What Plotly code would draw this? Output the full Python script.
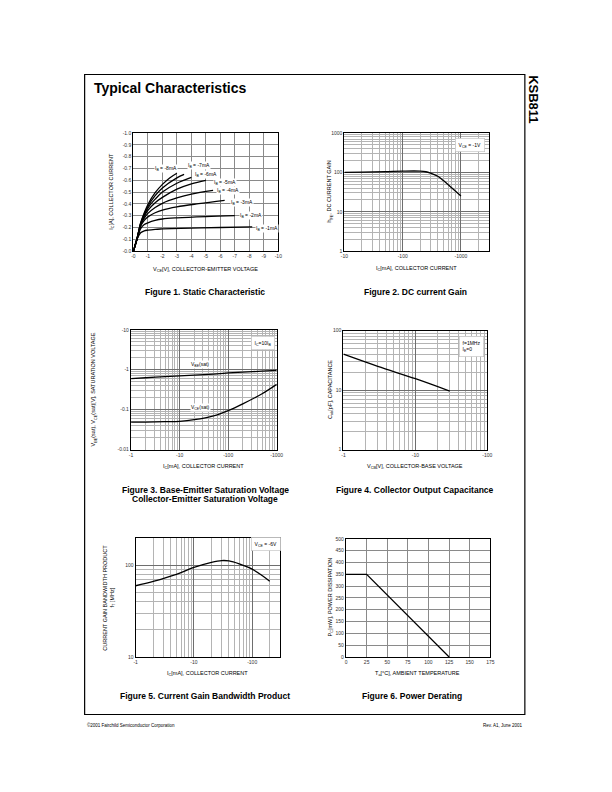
import plotly.graph_objects as go

# the page body keeps an 8px margin, so the figure is drawn 8px in from the page edge
PAGE_W, PAGE_H = 612, 792
OFF = 8
W, H = PAGE_W - 2 * OFF, PAGE_H - 2 * OFF
FONT = "Liberation Sans, Arial, Helvetica, sans-serif"

# Figure 1: static characteristic (magnitudes; PNP so axes are labelled negative)
ib_labels = ["-1mA", "-2mA", "-3mA", "-4mA", "-5mA", "-6mA", "-7mA", "-8mA"]
vce_ib1 = [0, 0.25, 0.5, 0.75, 1, 1.5, 2, 4, 6, 8.2]
ic_ib1 = [0, 0.1, 0.155, 0.172, 0.178, 0.185, 0.188, 0.195, 0.2, 0.205]
vce_ib2 = [0, 0.25, 0.5, 0.75, 1, 1.5, 2, 3, 5, 7]
ic_ib2 = [0, 0.1, 0.19, 0.225, 0.24, 0.26, 0.272, 0.282, 0.293, 0.3]
vce_ib3 = [0, 0.25, 0.5, 0.75, 1, 1.5, 2, 3, 4.5, 6.3]
ic_ib3 = [0, 0.1, 0.21, 0.26, 0.29, 0.325, 0.348, 0.375, 0.402, 0.43]
vce_ib4 = [0, 0.25, 0.5, 0.75, 1, 1.5, 2, 3, 4, 5.5]
ic_ib4 = [0, 0.105, 0.22, 0.28, 0.32, 0.37, 0.405, 0.45, 0.483, 0.515]
vce_ib5 = [0, 0.25, 0.5, 0.75, 1, 1.5, 2, 3, 4, 5]
ic_ib5 = [0, 0.105, 0.225, 0.295, 0.345, 0.41, 0.455, 0.525, 0.57, 0.6]
vce_ib6 = [0, 0.25, 0.5, 0.75, 1, 1.5, 2, 3, 4]
ic_ib6 = [0, 0.105, 0.23, 0.305, 0.365, 0.44, 0.5, 0.575, 0.625]
vce_ib7 = [0, 0.25, 0.5, 0.75, 1, 1.5, 2, 3, 3.5]
ic_ib7 = [0, 0.105, 0.235, 0.315, 0.38, 0.47, 0.535, 0.62, 0.65]
vce_ib8 = [0, 0.25, 0.5, 0.75, 1, 1.5, 2, 2.5, 3]
ic_ib8 = [0, 0.11, 0.24, 0.325, 0.395, 0.495, 0.565, 0.62, 0.66]
# label anchor points (left edge, centre) for each IB curve
lbl_x = [8.4, 7.3, 6.7, 5.7, 5.5, 4.2, 3.7, 1.4]
lbl_y = [0.195, 0.30, 0.41, 0.51, 0.585, 0.65, 0.725, 0.70]

# Figure 2: DC current gain
ic_hfe = [10, 20, 50, 100, 200, 250, 300, 400, 500, 700, 1000]
hfe = [100, 102, 105, 108, 108, 104, 96, 80, 62, 40, 25]

# Figure 3: saturation voltages
ic_sat = [1, 2, 5, 10, 20, 50, 100, 200, 500, 1000]
vbe_sat = [0.6, 0.63, 0.67, 0.7, 0.73, 0.78, 0.83, 0.87, 0.92, 0.96]
vce_sat = [0.049, 0.049, 0.05, 0.051, 0.056, 0.07, 0.095, 0.14, 0.25, 0.43]

# Figure 4: collector output capacitance
vcb = [1, 3, 10, 30]
cob = [40, 25, 15.5, 9.6]

# Figure 5: current gain bandwidth product
ic_ft = [1, 2, 5, 10, 20, 30, 40, 60, 100, 150, 200]
ft = [60, 67, 80, 95, 108, 113, 112, 104, 91, 77, 67]

# Figure 6: power derating
ta = [0, 25, 125]
pc = [350, 350, 0]


def px_x(a, b):
    return [(a - OFF) / W, (b - OFF) / W]


def px_y(top, bottom):
    return [1 - (bottom - OFF) / H, 1 - (top - OFF) / H]


def decades(lo, hi):
    return [m * 10 ** e for e in range(lo, hi) for m in range(2, 10)]


fig = go.Figure()
line = dict(color="black", width=1.3)

fig1_x = [vce_ib1, vce_ib2, vce_ib3, vce_ib4, vce_ib5, vce_ib6, vce_ib7, vce_ib8]
fig1_y = [ic_ib1, ic_ib2, ic_ib3, ic_ib4, ic_ib5, ic_ib6, ic_ib7, ic_ib8]
for xs, ys in zip(fig1_x, fig1_y):
    fig.add_trace(go.Scatter(x=xs, y=ys, mode="lines", line=line, line_shape="spline",
                             xaxis="x", yaxis="y", showlegend=False))

fig.add_trace(go.Scatter(x=ic_hfe, y=hfe, mode="lines", line=line, line_shape="spline",
                         xaxis="x2", yaxis="y2", showlegend=False))
fig.add_trace(go.Scatter(x=ic_sat, y=vbe_sat, mode="lines", line=line, line_shape="spline",
                         xaxis="x3", yaxis="y3", showlegend=False))
fig.add_trace(go.Scatter(x=ic_sat, y=vce_sat, mode="lines", line=line, line_shape="spline",
                         xaxis="x3", yaxis="y3", showlegend=False))
fig.add_trace(go.Scatter(x=vcb, y=cob, mode="lines", line=line, line_shape="spline",
                         xaxis="x4", yaxis="y4", showlegend=False))
fig.add_trace(go.Scatter(x=ic_ft, y=ft, mode="lines", line=line, line_shape="spline",
                         xaxis="x5", yaxis="y5", showlegend=False))
fig.add_trace(go.Scatter(x=ta, y=pc, mode="lines", line=line,
                         xaxis="x6", yaxis="y6", showlegend=False))

tickfont = dict(family=FONT, size=5, color="#333")
base = dict(showline=True, linecolor="black", linewidth=1.3, mirror=True,
            ticks="", showgrid=True, zeroline=False, tickfont=tickfont, fixedrange=True)
lin_grid = dict(gridcolor="#8a8a8a", gridwidth=0.8)
log_grid = dict(gridcolor="#6e6e6e", gridwidth=0.9)


def minor(lo, hi):
    return dict(tickmode="array", tickvals=decades(lo, hi), showgrid=True,
                gridcolor="#b4b4b4", gridwidth=0.6, ticks="")


layout_axes = dict(
    xaxis=dict(base, **lin_grid, domain=px_x(131.7, 279.3), anchor="y", range=[0, 10],
               tickvals=list(range(11)), ticktext=["-%d" % v for v in range(11)]),
    yaxis=dict(base, **lin_grid, domain=px_y(131, 250), anchor="x", range=[0, 1.0],
               tickvals=[v / 10 for v in range(11)],
               ticktext=["-%.1f" % (v / 10) for v in range(11)]),
    xaxis2=dict(base, **log_grid, type="log", domain=px_x(346.7, 493.7), anchor="y2",
                range=[1, 3.477], tickvals=[10, 100, 1000],
                ticktext=["-10", "-100", "-1000"], minor=minor(1, 4)),
    yaxis2=dict(base, **log_grid, type="log", domain=px_y(131, 250), anchor="x2",
                range=[0, 3], tickvals=[1, 10, 100, 1000],
                ticktext=["1", "10", "100", "1000"], minor=minor(0, 3)),
    xaxis3=dict(base, **log_grid, type="log", domain=px_x(129.3, 277.7), anchor="y3",
                range=[0, 3], tickvals=[1, 10, 100, 1000],
                ticktext=["-1", "-10", "-100", "-1000"], minor=minor(0, 3)),
    yaxis3=dict(base, **log_grid, type="log", domain=px_y(329.3, 450), anchor="x3",
                range=[-2, 1], tickvals=[0.01, 0.1, 1, 10],
                ticktext=["-0.01", "-0.1", "-1", "-10"], minor=minor(-2, 1)),
    xaxis4=dict(base, **log_grid, type="log", domain=px_x(345.7, 492.3), anchor="y4",
                range=[0, 2], tickvals=[1, 10, 100],
                ticktext=["-1", "-10", "-100"], minor=minor(0, 2)),
    yaxis4=dict(base, **log_grid, type="log", domain=px_y(330, 450), anchor="x4",
                range=[0, 2], tickvals=[1, 10, 100],
                ticktext=["1", "10", "100"], minor=minor(0, 2)),
    xaxis5=dict(base, **log_grid, type="log", domain=px_x(134, 281), anchor="y5",
                range=[0, 2.477], tickvals=[1, 10, 100],
                ticktext=["-1", "-10", "-100"], minor=minor(0, 3)),
    yaxis5=dict(base, **log_grid, type="log", domain=px_y(539, 659), anchor="x5",
                range=[1, 2.301], tickvals=[10, 100],
                ticktext=["10", "100"], minor=minor(1, 3)),
    xaxis6=dict(base, **lin_grid, domain=px_x(348.3, 495.3), anchor="y6", range=[0, 175],
                tickvals=list(range(0, 176, 25))),
    yaxis6=dict(base, **lin_grid, domain=px_y(540, 659), anchor="x6", range=[0, 500],
                tickvals=list(range(0, 501, 50))),
)

ann = []


def page_text(x, y, text, size=5.5, bold=False, angle=0, xanchor="center"):
    t = "<b>%s</b>" % text if bold else text
    ann.append(dict(x=(x - OFF) / W, y=1 - (y - OFF) / H, xref="paper", yref="paper",
                    text=t, showarrow=False, textangle=angle, xanchor=xanchor,
                    yanchor="middle", font=dict(family=FONT, size=size, color="black")))


# curve labels in figure 1
for lab, lx, ly in zip(ib_labels, lbl_x, lbl_y):
    ann.append(dict(x=lx, y=ly, xref="x", yref="y", text="I<sub>B</sub> = " + lab,
                    showarrow=False, xanchor="left", yanchor="middle", bgcolor="white",
                    borderpad=0, font=dict(family=FONT, size=5, color="black")))


def box(xref, yref, x, y, text, xanchor="right", yanchor="top", align="left"):
    ann.append(dict(x=x, y=y, xref=xref, yref=yref, text=text, showarrow=False,
                    xanchor=xanchor, yanchor=yanchor, align=align, bgcolor="white",
                    bordercolor="#bdbdbd", borderwidth=0.6, borderpad=3,
                    font=dict(family=FONT, size=5, color="black")))


box("x2 domain", "y2 domain", 0.975, 0.96, "V<sub>CE</sub> = -1V")
box("x3 domain", "y3 domain", 0.985, 0.95, "I<sub>C</sub>=10I<sub>B</sub>")
box("x4 domain", "y4 domain", 0.975, 0.95, "f=1MHz<br>I<sub>E</sub>=0")
box("x5 domain", "y5 domain", 1.005, 1.005, "V<sub>CE</sub> = -6V")

ann.append(dict(x=1.42, y=0.14, xref="x3", yref="y3", text="V<sub>BE</sub>(sat)",
                showarrow=False, bgcolor="white", borderpad=0,
                font=dict(family=FONT, size=5, color="black")))
ann.append(dict(x=1.42, y=-0.95, xref="x3", yref="y3", text="V<sub>CE</sub>(sat)",
                showarrow=False, bgcolor="white", borderpad=0,
                font=dict(family=FONT, size=5, color="black")))

# axis titles
page_text(205, 269, "V<sub>CE</sub>[V], COLLECTOR-EMITTER VOLTAGE")
page_text(109, 190, "I<sub>C</sub>[A], COLLECTOR CURRENT", angle=-90)
page_text(420, 268, "I<sub>C</sub>[mA], COLLECTOR CURRENT")
page_text(332, 190, "h<sub>FE</sub>, DC CURRENT GAIN", angle=-90)
page_text(203, 467, "I<sub>C</sub>[mA], COLLECTOR CURRENT")
page_text(91, 389, "V<sub>BE</sub>(sat), V<sub>CE</sub>(sat)[V], SATURATION VOLTAGE", angle=-90)
page_text(419, 467, "V<sub>CB</sub>[V], COLLECTOR-BASE VOLTAGE")
page_text(332, 390, "C<sub>ob</sub>[pF], CAPACITANCE", angle=-90)
page_text(207, 676, "I<sub>C</sub>[mA], COLLECTOR CURRENT")
page_text(110, 599, "f<sub>T</sub> [MHz]", angle=-90)
page_text(103, 599, "CURRENT GAIN BANDWIDTH PRODUCT", angle=-90)
page_text(421, 676, "T<sub>a</sub>[°C], AMBIENT TEMPERATURE")
page_text(332, 599, "P<sub>C</sub>[mW], POWER DISSIPATION", angle=-90)

# captions
page_text(205, 291, "Figure 1. Static Characteristic", size=8.5, bold=True)
page_text(419, 291, "Figure 2. DC current Gain", size=8.5, bold=True)
page_text(205, 491, "Figure 3. Base-Emitter Saturation Voltage", size=8.5, bold=True)
page_text(205, 500, "Collector-Emitter Saturation Voltage", size=8.5, bold=True)
page_text(419, 491, "Figure 4. Collector Output Capacitance", size=8.5, bold=True)
page_text(205, 698, "Figure 5. Current Gain Bandwidth Product", size=8.5, bold=True)
page_text(416, 698, "Figure 6. Power Derating", size=8.5, bold=True)

# page furniture
page_text(90, 86, "Typical Characteristics", size=14, bold=True, xanchor="left")
page_text(540, 97, "KSB811", size=13, bold=True, angle=90)
page_text(82, 728, "©2001 Fairchild Semiconductor Corporation", size=4.5, xanchor="left")
page_text(530, 728, "Rev. A1, June 2001", size=4.5, xanchor="right")

fig.update_layout(
    width=W, height=H, margin=dict(l=0, r=0, t=0, b=0),
    paper_bgcolor="white", plot_bgcolor="white",
    font=dict(family=FONT, color="black"),
    annotations=ann,
    shapes=[dict(type="rect", xref="paper", yref="paper",
                 x0=(82 - OFF) / W, x1=(530.5 - OFF) / W,
                 y0=1 - (717 - OFF) / H, y1=1 - (72 - OFF) / H,
                 line=dict(color="black", width=1.2))],
    **layout_axes,
)

fig.write_html("out.html")
